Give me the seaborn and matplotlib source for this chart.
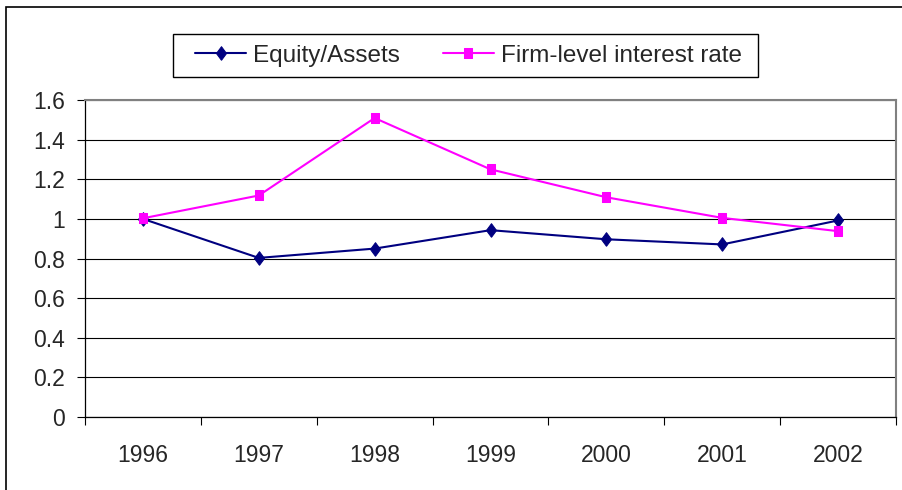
import numpy as np
import pandas as pd
import matplotlib
matplotlib.use("Agg")
import matplotlib.pyplot as plt
import seaborn as sns
from matplotlib.patches import Rectangle

# values
years = ["1996", "1997", "1998", "1999", "2000", "2001", "2002"]
equity_assets = [1.0, 0.803, 0.85, 0.943, 0.897, 0.871, 0.992]
firm_rate = [1.003, 1.118, 1.509, 1.25, 1.109, 1.005, 0.938]
y_ticks = [0, 0.2, 0.4, 0.6, 0.8, 1, 1.2, 1.4, 1.6]
y_labels = ["0", "0.2", "0.4", "0.6", "0.8", "1", "1.2", "1.4", "1.6"]

sns.set_style("white")
plt.rcParams["font.family"] = ["Liberation Sans", "DejaVu Sans"]

W, H = 902, 490
fig = plt.figure(figsize=(W / 100, H / 100), dpi=100)
left, right, top, bottom = 85, 896, 100, 417
ax = fig.add_axes([left / W, 1 - bottom / H, (right - left) / W, (bottom - top) / H])

df = pd.DataFrame({"pos": np.arange(len(years)),
                   "Equity/Assets": equity_assets,
                   "Firm-level interest rate": firm_rate})

# markers a bit taller than wide, as in the (vertically stretched) original
tall_diamond = [(0, -0.5), (0.37, 0), (0, 0.5), (-0.37, 0), (0, -0.5)]
tall_square = [(-0.37, -0.5), (0.37, -0.5), (0.37, 0.5), (-0.37, 0.5), (-0.37, -0.5)]

sns.lineplot(data=df, x="pos", y="Equity/Assets", ax=ax, color="#000080",
             marker=tall_diamond, markersize=9.8, markeredgecolor="#000080",
             linewidth=1.5, label="Equity/Assets")
sns.lineplot(data=df, x="pos", y="Firm-level interest rate", ax=ax, color="#FF00FF",
             marker=tall_square, markersize=7.4, markeredgecolor="#FF00FF",
             linewidth=1.5, label="Firm-level interest rate")

ax.set_xlim(-0.5, len(years) - 0.5)
ax.set_ylim(0, 1.6)
ax.set_xlabel("")
ax.set_ylabel("")

ax.set_xticks(df["pos"])
ax.set_xticklabels(years, fontsize=16.5)
ax.set_xticks(np.arange(-0.5, len(years)), minor=True)
ax.tick_params(axis="x", which="major", length=0, pad=19.5)
ax.tick_params(axis="x", which="minor", length=5.5, width=0.8, color="black",
               direction="out", bottom=True)
ax.set_yticks(y_ticks)
ax.set_yticklabels(y_labels, fontsize=16.5)
ax.tick_params(axis="y", length=5.8, width=0.8, color="black", direction="out",
               left=True, pad=8.5)

ax.grid(axis="y", color="black", linewidth=0.8)
ax.set_axisbelow(True)
for side in ["left", "bottom"]:
    ax.spines[side].set_color("black")
    ax.spines[side].set_linewidth(0.9)
for side in ["top", "right"]:
    ax.spines[side].set_color("#808080")
    ax.spines[side].set_linewidth(1.5)

# legend contents without its own frame; frame drawn separately
leg = ax.legend(loc="center left", bbox_to_anchor=(195 / W, 1 - 55.5 / H),
                bbox_transform=fig.transFigure, ncol=2, fontsize=17.5, frameon=False,
                handlelength=2.1, handletextpad=0.3, columnspacing=1.75,
                borderpad=0, borderaxespad=0)
fig.patches.append(Rectangle((173 / W, 1 - 77 / H), (758 - 173) / W, 43 / H,
                             transform=fig.transFigure, fill=False,
                             edgecolor="black", linewidth=1.0))

# outer chart border (left and top edges visible)
fig.patches.append(Rectangle((5.5 / W, -0.5), 2, 1.5 - 7 / H, transform=fig.transFigure,
                             fill=False, edgecolor="black", linewidth=1.2))

fig.savefig("out.png", dpi=100)
